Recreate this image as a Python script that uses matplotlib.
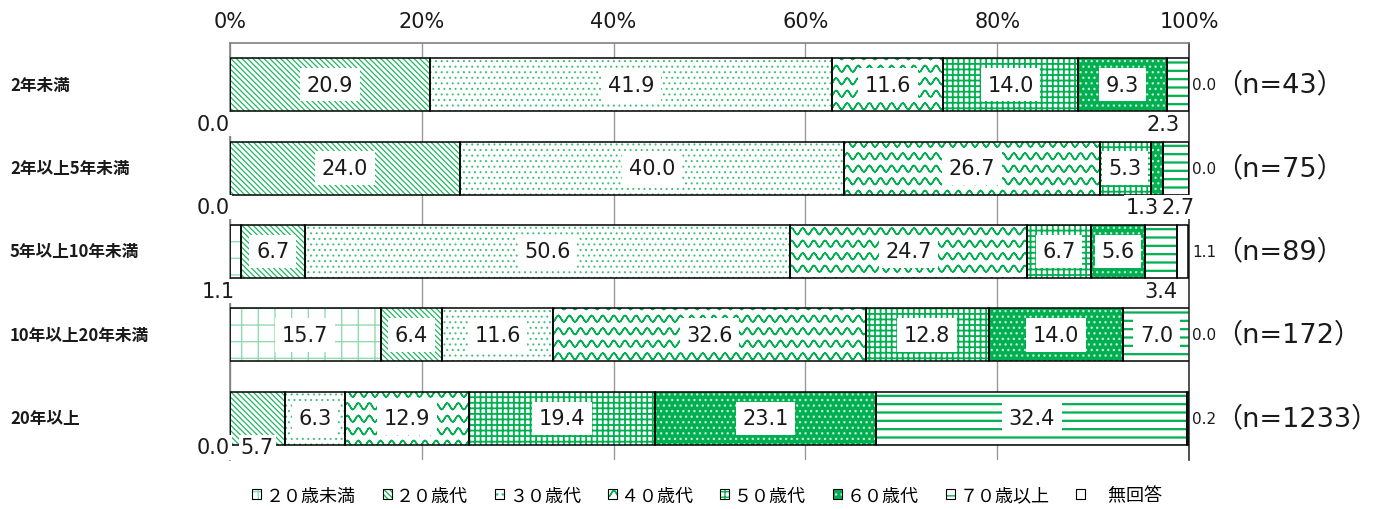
import warnings
import numpy as np
import matplotlib
matplotlib.use('Agg')
import matplotlib.pyplot as plt
import matplotlib.hatch as mhatch
from matplotlib.path import Path
from matplotlib.patches import Patch
from matplotlib.transforms import blended_transform_factory

warnings.filterwarnings('ignore')

groups = ['2年未満', '2年以上5年未満', '5年以上10年未満', '10年以上20年未満', '20年以上']
ages = ['２０歳未満', '２０歳代', '３０歳代', '４０歳代', '５０歳代', '６０歳代', '７０歳以上', '無回答']
under20 = [0.0, 0.0, 1.1, 15.7, 0.0]
age20s = [20.9, 24.0, 6.7, 6.4, 5.7]
age30s = [41.9, 40.0, 50.6, 11.6, 6.3]
age40s = [11.6, 26.7, 24.7, 32.6, 12.9]
age50s = [14.0, 5.3, 6.7, 12.8, 19.4]
age60s = [9.3, 1.3, 5.6, 14.0, 23.1]
age70plus = [2.3, 2.7, 3.4, 7.0, 32.4]
no_answer = [0.0, 0.0, 1.1, 0.0, 0.2]
n_counts = [43, 75, 89, 172, 1233]
ticks = [0, 20, 40, 60, 80, 100]

series = [under20, age20s, age30s, age40s, age50s, age60s, age70plus, no_answer]


class WaveHatch(mhatch.HatchPatternBase):
    # wavy horizontal lines for the '~' hatch
    periods = 9
    steps = 8

    def __init__(self, hatch, density):
        self.num_rows = hatch.count('~') * 8
        self.half = self.periods * self.steps + 1
        self.num_vertices = self.num_rows * self.half * 2

    def set_vertices_and_codes(self, vertices, codes):
        xs = np.linspace(0, 1, self.half)
        amp = 0.26 / self.num_rows
        for r in range(self.num_rows):
            y0 = (r + 0.5) / self.num_rows
            ys = y0 + amp * np.sin(2 * np.pi * self.periods * xs)
            start = r * self.half * 2
            # forward and back again so the filled area stays zero
            vertices[start:start + self.half, 0] = xs
            vertices[start:start + self.half, 1] = ys
            vertices[start + self.half:start + 2 * self.half, 0] = xs[::-1]
            vertices[start + self.half:start + 2 * self.half, 1] = ys[::-1]
            codes[start:start + 2 * self.half] = Path.LINETO
            codes[start] = Path.MOVETO


mhatch._hatch_types.append(WaveHatch)

green = '#00b050'
bs = chr(92)
faces = ['white', 'white', 'white', 'white', 'white', green, 'white', 'white']
hatch_cols = ['#8fdcae', '#1fb862', '#3cc077', green, green, '#c8f0da', green, 'white']
hatches = ['+', bs * 6, '...', '~', '+++', '...', '--', None]
hatch_lws = [1.0, 0.9, 0.7, 1.1, 1.3, 0.9, 1.6, 1.0]

plt.rcParams['font.family'] = ['DejaVu Sans', 'Noto Sans CJK JP']
plt.rcParams['hatch.linewidth'] = 1.0

fig = plt.figure(figsize=(13.86, 5.10), dpi=100)
ax = fig.add_axes([230 / 1386, 49 / 510, 959 / 1386, 417 / 510])

y = np.arange(len(groups))
bar_h = 0.635
left = np.zeros(len(groups))
for k, vals in enumerate(series):
    vals = np.array(vals)
    bars = ax.barh(y, vals, left=left, height=bar_h, color=faces[k],
                   edgecolor=hatch_cols[k], hatch=hatches[k], linewidth=0,
                   zorder=2)
    for b in bars:
        if hasattr(b, 'set_hatch_linewidth'):
            b.set_hatch_linewidth(hatch_lws[k])
    ax.barh(y, vals, left=left, height=bar_h, color='none',
            edgecolor='black', linewidth=1.1, zorder=3)
    left += vals

# value labels: big segments inside, small ones under the bar
below_extra = {(4, 1)}
for i in range(len(groups)):
    cum = 0.0
    below = []
    for k in range(7):
        v = series[k][i]
        c = cum + v / 2
        if v < 5 or (i, k) in below_extra:
            below.append([min(c, 97.3), v, cum == 0 and v < 2])
        else:
            ax.text(c, i, f'{v:.1f}', ha='center', va='center', fontsize=15,
                    color='#1a1a1a', zorder=5,
                    bbox=dict(boxstyle='square,pad=0.32', fc='white', ec='none'))
        cum += v
    # spread labels that would collide
    for a, b in zip(below, below[1:]):
        if not a[2] and b[0] - a[0] < 3.7:
            mid = (a[0] + b[0]) / 2
            a[0], b[0] = mid - 1.85, mid + 1.85
    yy = i + (0.47 if i < len(groups) - 1 else 0.35)
    for c, v, at_start in below:
        ax.text(c, yy, f'{v:.1f}', ha='right' if at_start else 'center',
                va='center', fontsize=15, color='#1a1a1a', zorder=5,
                bbox=dict(boxstyle='square,pad=0.1', fc='white', ec='none'))

trans = blended_transform_factory(ax.transAxes, ax.transData)
for i in range(len(groups)):
    ax.text(1.003, i, f'{no_answer[i]:.1f}', transform=trans, ha='left',
            va='center', fontsize=11, color='#1a1a1a')
    ax.text(1.027, i, f'（n={n_counts[i]}）', transform=trans, ha='left',
            va='center', fontsize=19.5, color='#1a1a1a')

ftrans = blended_transform_factory(fig.transFigure, ax.transData)
for i, g in enumerate(groups):
    ax.text(10 / 1386, i, g, transform=ftrans, ha='left', va='center',
            fontsize=12, fontweight='bold', family=['Noto Sans CJK JP'],
            color='#1a1a1a')

ax.set_xlim(0, 100)
ax.set_ylim(len(groups) - 0.5, -0.5)
ax.xaxis.tick_top()
ax.set_xticks(ticks)
ax.set_xticklabels([f'{t}%' for t in ticks])
ax.tick_params(axis='x', length=0, pad=9, labelsize=15, labelcolor='#1a1a1a')
ax.set_yticks([])
ax.grid(axis='x', color='#999999', linewidth=1)
ax.set_axisbelow(True)
for s in ['top', 'left', 'right', 'bottom']:
    ax.spines[s].set_color('#808080')
    ax.spines[s].set_linewidth(1.2)
ax.spines['right'].set_color('#333333')
ax.spines['bottom'].set_visible(False)

handles = [(Patch(facecolor=faces[k], edgecolor=hatch_cols[k], hatch=hatches[k], lw=0),
            Patch(facecolor='none', edgecolor='black', lw=0.8)) for k in range(8)]
labels = ages[:-1] + ['　' + ages[-1]]
fig.legend(handles, labels, loc='center', bbox_to_anchor=(0.51, 0.026), ncol=8,
           frameon=False, handlelength=0.5, handleheight=0.5, handletextpad=0.25,
           columnspacing=1.5, prop={'family': ['Noto Sans CJK JP'], 'size': 13})

fig.savefig('out.png', dpi=100)
